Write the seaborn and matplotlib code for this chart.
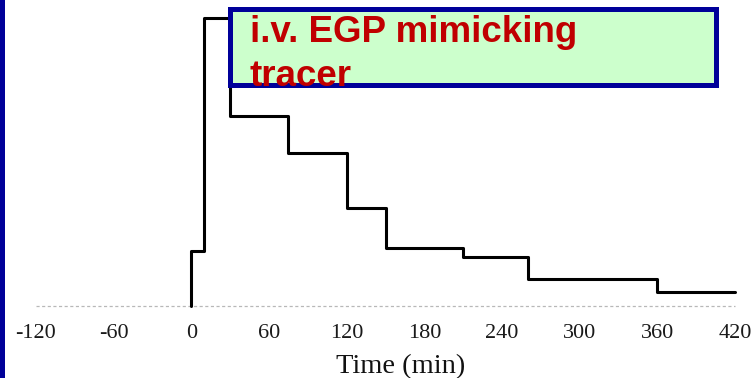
import numpy as np
import pandas as pd
import matplotlib
matplotlib.use('Agg')
import matplotlib.pyplot as plt
from matplotlib.patches import Rectangle
import seaborn as sns

# tracer infusion profile (arbitrary units, peak = 100)
time_min = [0, 0, 10, 30, 75, 120, 150, 210, 260, 360, 420]
infusion = [0, 19, 100, 66, 53, 34, 20, 17, 9.4, 4.9, 4.9]
tick_vals = [-120, -60, 0, 60, 120, 180, 240, 300, 360, 420]
box_lines = ["i.v. EGP mimicking", "tracer"]

df = pd.DataFrame({'time': time_min, 'rate': infusion})

sns.set_style('white')
plt.rcParams['font.family'] = ['Liberation Serif', 'DejaVu Serif']

W, H = 752, 378
fig = plt.figure(figsize=(W / 100, H / 100), dpi=100)
fig.patch.set_facecolor('white')

# axes placed so that -120..420 spans the same pixels as the picture
ax = fig.add_axes([36 / W, 72 / H, 699 / W, 288 / H])
ax.set_facecolor('none')

# dotted zero baseline
ax.plot([-120, 420], [0, 0], color='#b8b8b8', lw=0.9, ls=(0, (2.5, 2)), zorder=1, clip_on=False)

sns.lineplot(data=df, x='time', y='rate', drawstyle='steps-post', estimator=None,
             sort=False, color='black', lw=2.2, ax=ax, zorder=3)
for l in ax.lines:
    l.set_clip_on(False)

ax.set_xlim(-120, 420)
ax.set_ylim(0, 100)
ax.set_xticks(tick_vals)
ax.set_xticklabels([str(t) for t in tick_vals], fontsize=16, color='#1a1a1a')
ax.set_yticks([])
ax.tick_params(axis='x', direction='out', length=3, width=0.7, color='#aaaaaa', pad=10)
for s in ax.spines.values():
    s.set_visible(False)
ax.set_xlabel('')
ax.set_ylabel('')
ax.text((401 - 36) / 699, -(373 - 306) / 288, 'Time (min)', transform=ax.transAxes,
        ha='center', va='baseline', fontsize=20.5, color='#111111')

# navy strip on the left edge
fig.patches.append(Rectangle((0, 0), 5 / W, 1, transform=fig.transFigure,
                             facecolor='#000099', edgecolor='none', zorder=5))

# green label box
fig.patches.append(Rectangle((230.5 / W, (H - 84.5) / H), 485 / W, 76 / H,
                             transform=fig.transFigure, facecolor='#ccffcc',
                             edgecolor='#000099', linewidth=3.6, zorder=5))
fig.text(250 / W, (H - 42) / H, box_lines[0], fontsize=26.5, fontweight='bold',
         family=['Liberation Sans', 'DejaVu Sans'], color='#c00000', va='baseline', zorder=6)
fig.text(250 / W, (H - 86) / H, box_lines[1], fontsize=26.5, fontweight='bold',
         family=['Liberation Sans', 'DejaVu Sans'], color='#c00000', va='baseline', zorder=6)

fig.savefig('out.png', dpi=100)
